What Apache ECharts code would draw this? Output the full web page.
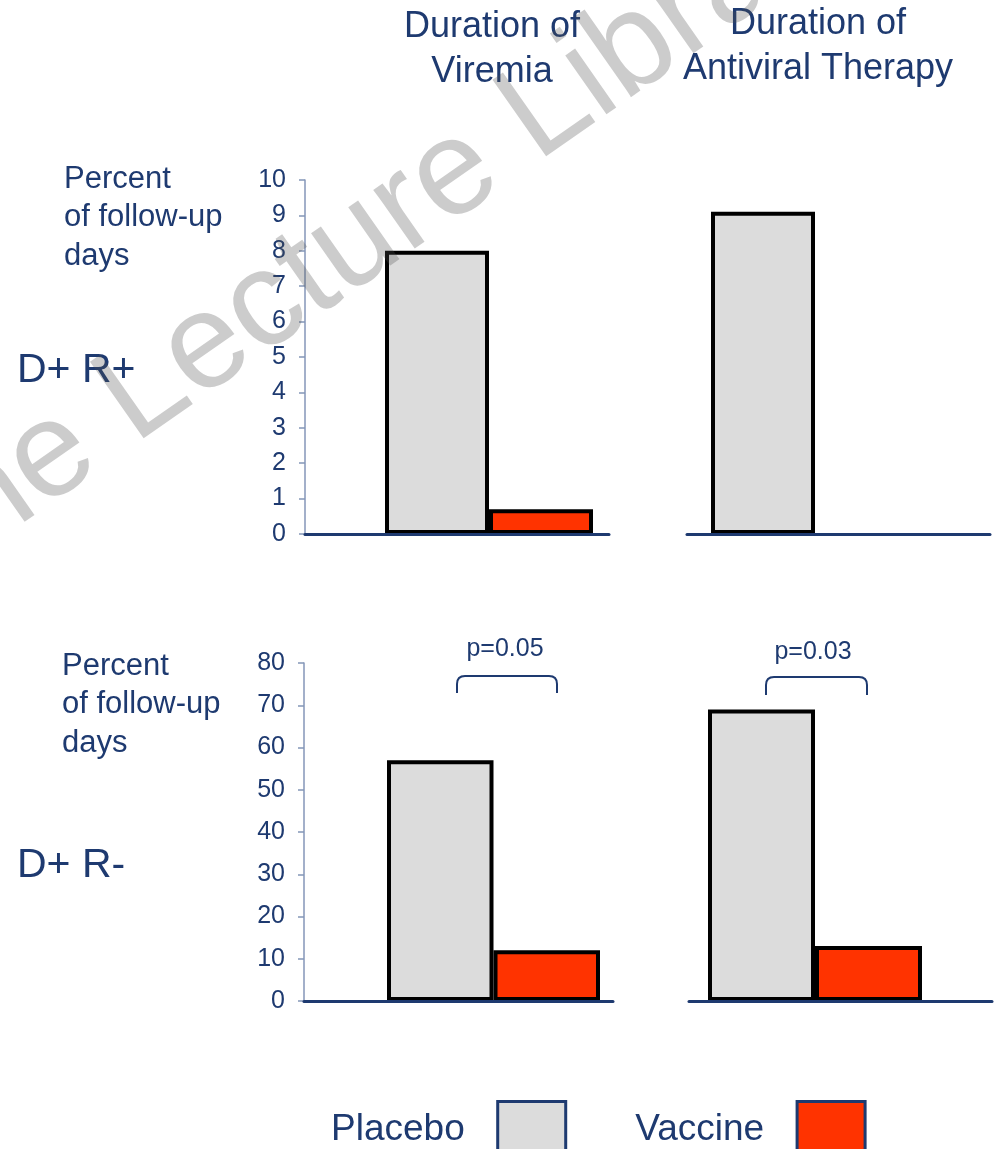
<!DOCTYPE html>
<html><head><meta charset="utf-8">
<script src="https://cdn.jsdelivr.net/npm/echarts@6/dist/echarts.min.js"></script>
<style>html,body{margin:0;padding:0;background:#fff}#c{width:999px;height:1149px}</style>
</head><body><div id="c"></div>
<script>
// ---- data ----
const panels = ['D+ R+ Viremia', 'D+ R+ Antiviral Therapy', 'D+ R- Viremia', 'D+ R- Antiviral Therapy'];
const placebo = [8.0, 9.1, 57, 69];
const vaccine = [0.7, 0, 12, 13];
const yMax = [10, 10, 80, 80];
const yStep = [1, 1, 10, 10];
const columnTitles = ['Duration of\nViremia', 'Duration of\nAntiviral Therapy'];
const rowLabels = ['D+ R+', 'D+ R-'];
const yAxisTitle = 'Percent\nof follow-up\ndays';
const pValues = ['p=0.05', 'p=0.03'];
const legendNames = ['Placebo', 'Vaccine'];
const watermark = ['Online ', 'Lecture Library'];

// ---- style / layout ----
const NAVY = '#1e3a70';
const FONT = '"Liberation Sans", Arial, sans-serif';
const frames = [
  {left: 305, width: 304, top: 180, height: 354, yShow: true},
  {left: 687, width: 303, top: 180, height: 354, yShow: false},
  {left: 304, width: 309, top: 663, height: 338, yShow: true},
  {left: 689, width: 303, top: 663, height: 338, yShow: false}
];
const barBoxes = [
  {left: 385, width: 208}, {left: 711, width: 208},
  {left: 387, width: 213}, {left: 708, width: 214}
];

const grid = [], xAxis = [], yAxis = [], series = [];
frames.forEach((f, i) => {
  grid.push({left: f.left, top: f.top, width: f.width, height: f.height, containLabel: false, outerBoundsMode: 'none'});
  xAxis.push({gridIndex: i, type: 'value', min: 0, max: 1, z: 10,
    axisLine: {show: true, lineStyle: {color: NAVY, width: 3}},
    axisTick: {show: false}, axisLabel: {show: false}, splitLine: {show: false}});
  yAxis.push({gridIndex: i, type: 'value', min: 0, max: yMax[i], interval: yStep[i], show: f.yShow, z: 9,
    axisLine: {show: true, lineStyle: {color: '#8496b8', width: 1.5}},
    axisTick: {show: true, inside: false, length: 6, lineStyle: {color: '#8496b8', width: 1.5}},
    axisLabel: {show: true, margin: 19, color: NAVY, fontSize: 25, fontFamily: FONT, hideOverlap: false},
    splitLine: {show: false}});
});
barBoxes.forEach((b, i) => {
  const f = frames[i];
  const gi = frames.length + i;
  grid.push({left: b.left, top: f.top, width: b.width, height: f.height, containLabel: false, outerBoundsMode: 'none'});
  xAxis.push({gridIndex: gi, type: 'category', data: [panels[i]], show: false});
  yAxis.push({gridIndex: gi, type: 'value', min: 0, max: yMax[i], show: false});
  series.push({type: 'bar', name: legendNames[0], xAxisIndex: gi, yAxisIndex: gi,
    barGap: '0%', barCategoryGap: '0%', data: [placebo[i]],
    itemStyle: {color: '#dcdcdc', borderColor: '#000', borderWidth: 4}});
  series.push({type: 'bar', name: legendNames[1], xAxisIndex: gi, yAxisIndex: gi,
    barGap: '0%', barCategoryGap: '0%', data: [vaccine[i]],
    itemStyle: {color: '#ff3300', borderColor: '#000', borderWidth: vaccine[i] > 0 ? 4 : 0}});
});

function txt(x, y, text, size, st) {
  return {type: 'text', x: x, y: y, z: 20, silent: true,
    style: Object.assign({text: text, fill: NAVY, font: 'normal ' + size + 'px ' + FONT,
      textAlign: 'left', textVerticalAlign: 'top'}, st || {})};
}

const graphic = [];
graphic.push(txt(492, 5, columnTitles[0], 36, {textAlign: 'center', lineHeight: 45}));
graphic.push(txt(818, 2, columnTitles[1], 36, {textAlign: 'center', lineHeight: 45}));
graphic.push(txt(64, 160, yAxisTitle, 31, {lineHeight: 38.5}));
graphic.push(txt(62, 647, yAxisTitle, 31, {lineHeight: 38.5}));
graphic.push(txt(17, 371, rowLabels[0], 41, {textVerticalAlign: 'middle'}));
graphic.push(txt(17, 866, rowLabels[1], 41, {textVerticalAlign: 'middle'}));

const brackets = [{x1: 457, x2: 557, yt: 676, yb: 693, tx: 505, ty: 649}, {x1: 766, x2: 867, yt: 677, yb: 695, tx: 813, ty: 652}];
const bs = {stroke: NAVY, lineWidth: 2, fill: null};
brackets.forEach((b, k) => {
  graphic.push(txt(b.tx, b.ty, pValues[k], 25, {textAlign: 'center', textVerticalAlign: 'middle'}));
  const r = 8;
  graphic.push({type: 'line', z: 20, silent: true, shape: {x1: b.x1, y1: b.yb, x2: b.x1, y2: b.yt + r}, style: bs});
  graphic.push({type: 'bezierCurve', z: 20, silent: true, shape: {x1: b.x1, y1: b.yt + r, cpx1: b.x1, cpy1: b.yt, x2: b.x1 + r, y2: b.yt}, style: bs});
  graphic.push({type: 'line', z: 20, silent: true, shape: {x1: b.x1 + r, y1: b.yt, x2: b.x2 - r, y2: b.yt}, style: bs});
  graphic.push({type: 'bezierCurve', z: 20, silent: true, shape: {x1: b.x2 - r, y1: b.yt, cpx1: b.x2, cpy1: b.yt, x2: b.x2, y2: b.yt + r}, style: bs});
  graphic.push({type: 'line', z: 20, silent: true, shape: {x1: b.x2, y1: b.yt + r, x2: b.x2, y2: b.yb}, style: bs});
});
// watermark
const rot = 35 * Math.PI / 180;
const wmFont = 'normal 136px ' + FONT;
graphic.push({type: 'text', x: 113, y: 414, rotation: rot, z: 50, silent: true,
  style: {text: watermark[1], font: wmFont, textAlign: 'left', textVerticalAlign: 'middle', fill: 'rgba(80,80,80,0.29)'}});
graphic.push({type: 'text', x: 113, y: 414, rotation: rot, z: 50, silent: true,
  style: {text: watermark[0], font: wmFont, textAlign: 'right', textVerticalAlign: 'middle', fill: 'rgba(80,80,80,0.29)'}});

const chart = echarts.init(document.getElementById('c'), null, {renderer: 'canvas'});
chart.setOption({
  animation: false,
  backgroundColor: '#ffffff',
  grid: grid, xAxis: xAxis, yAxis: yAxis, series: series,
  legend: {data: legendNames, left: 331, top: 1100, padding: 0, orient: 'horizontal', align: 'right',
    itemWidth: 68, itemHeight: 56, itemGap: 68, selectedMode: false, icon: 'rect',
    itemStyle: {borderColor: NAVY, borderWidth: 3},
    textStyle: {color: NAVY, fontSize: 37, fontFamily: FONT, padding: [0, 28, 0, 0]}},
  graphic: graphic
});
</script></body></html>
